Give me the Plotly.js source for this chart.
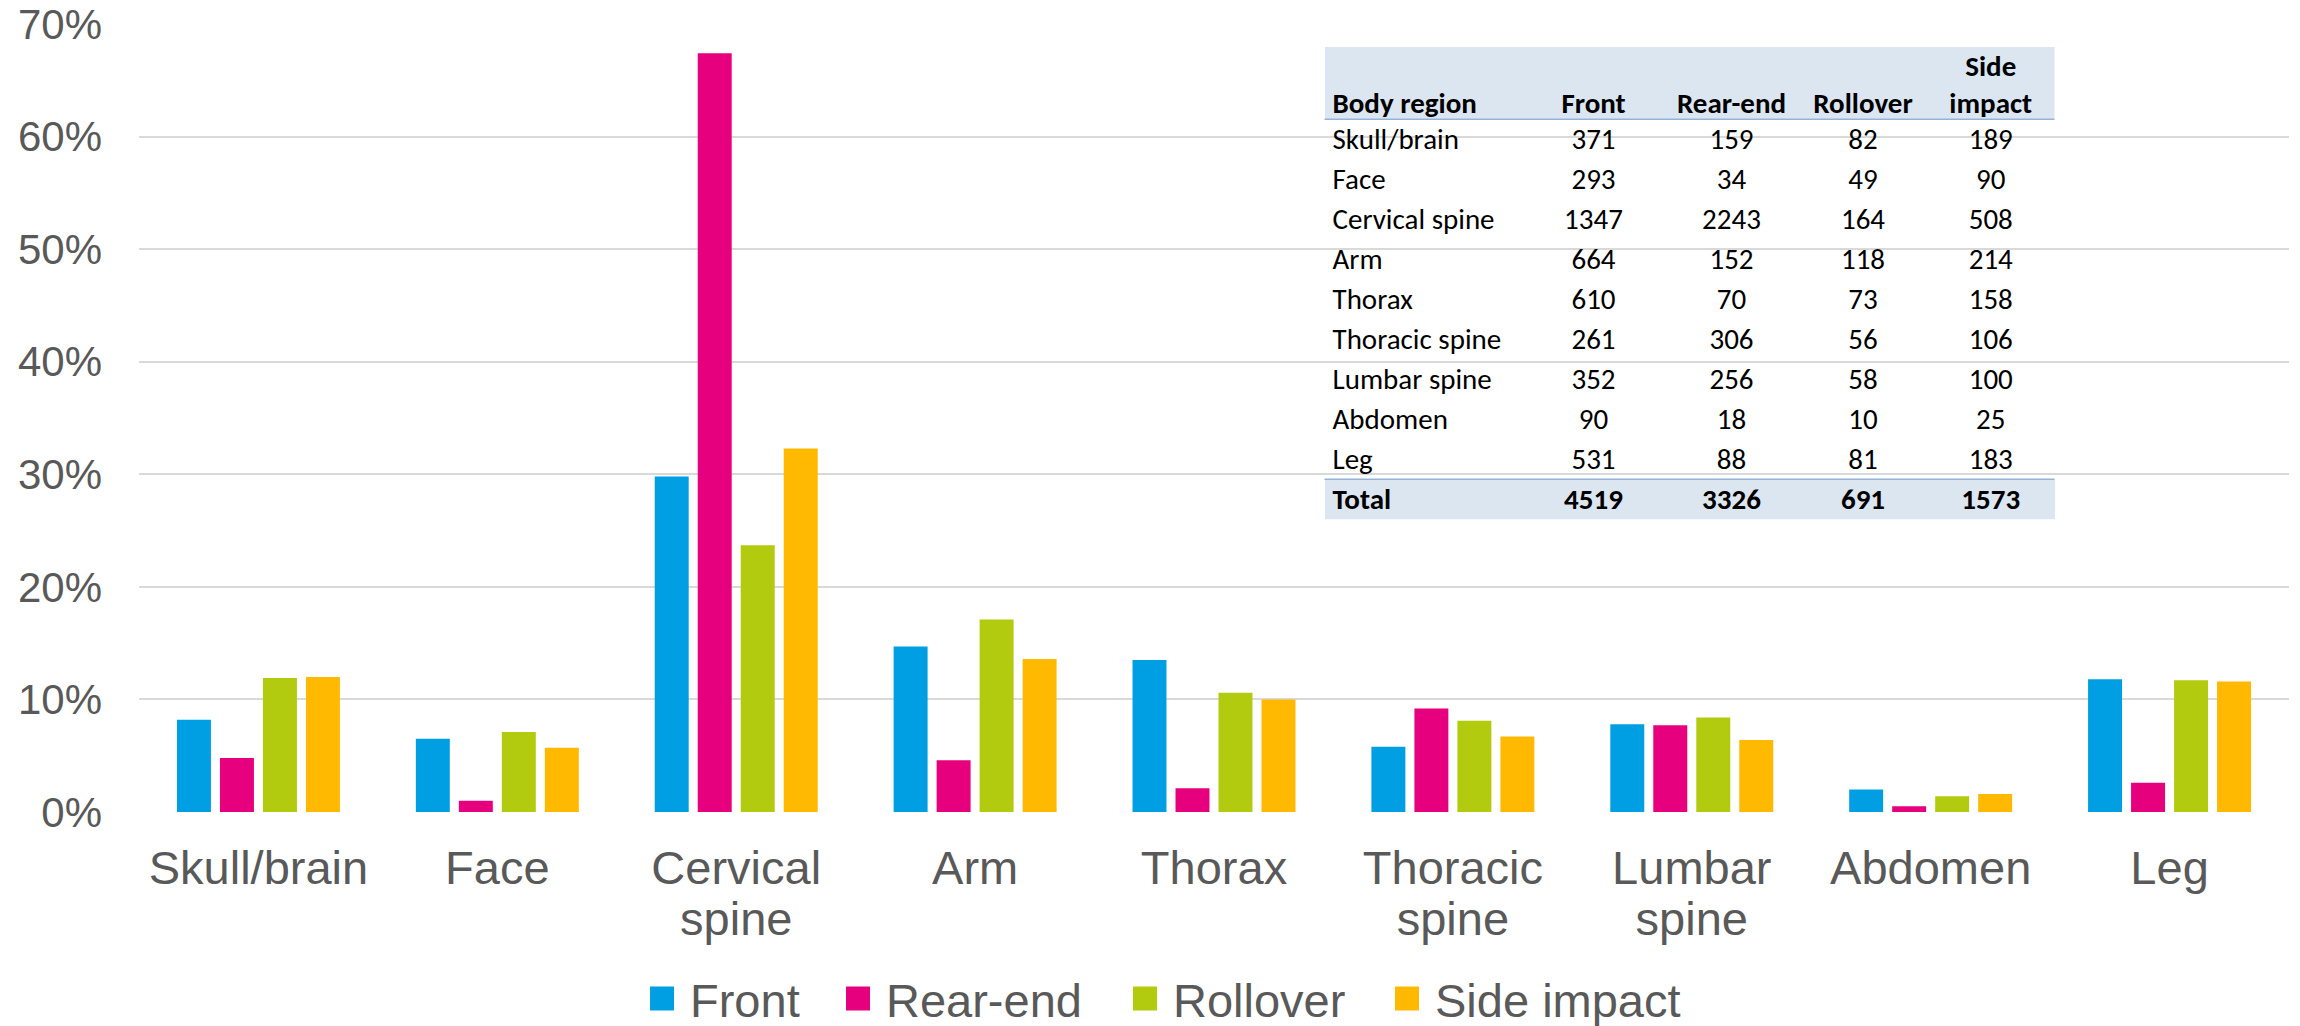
<!DOCTYPE html>
<html>
<head>
<meta charset="utf-8">
<script src="https://cdn.plot.ly/plotly-3.0.1.min.js"></script>
<style>
  html, body { margin: 0; padding: 0; background: #ffffff; }
  #chart { width: 2300px; height: 1026px; }
</style>
</head>
<body>
<div id="chart"></div>
<script>
// ---- Data ----
const categories = ['Skull/brain', 'Face', 'Cervical<br>spine', 'Arm', 'Thorax',
  'Thoracic<br>spine', 'Lumbar<br>spine', 'Abdomen', 'Leg'];
const seriesNames = ['Front', 'Rear-end', 'Rollover', 'Side impact'];
const frontPct    = [8.2, 6.5, 29.8, 14.7, 13.5, 5.8, 7.8, 2.0, 11.8];
const rearPct     = [4.8, 1.0, 67.4, 4.6, 2.1, 9.2, 7.7, 0.5, 2.6];
const rolloverPct = [11.9, 7.1, 23.7, 17.1, 10.6, 8.1, 8.4, 1.4, 11.7];
const sidePct     = [12.0, 5.7, 32.3, 13.6, 10.0, 6.7, 6.4, 1.6, 11.6];
const yTickVals   = [0, 10, 20, 30, 40, 50, 60, 70];
const yTickText   = ['0%', '10%', '20%', '30%', '40%', '50%', '60%', '70%'];

// Table data
const tableHeaderTop    = ['', '', '', '', 'Side'];
const tableHeaderBottom = ['Body region', 'Front', 'Rear-end', 'Rollover', 'impact'];
const tableRegions  = ['Skull/brain', 'Face', 'Cervical spine', 'Arm', 'Thorax',
  'Thoracic spine', 'Lumbar spine', 'Abdomen', 'Leg'];
const tableFront    = [371, 293, 1347, 664, 610, 261, 352, 90, 531];
const tableRear     = [159, 34, 2243, 152, 70, 306, 256, 18, 88];
const tableRollover = [82, 49, 164, 118, 73, 56, 58, 10, 81];
const tableSide     = [189, 90, 508, 214, 158, 106, 100, 25, 183];
const tableTotal    = ['Total', 4519, 3326, 691, 1573];

// ---- Styling / layout constants ----
const colors = ['#009fe3', '#e6007e', '#b2cb0f', '#ffb900'];
const W = 2300, H = 1026;
const M = { l: 139, r: 11, t: 24, b: 214, autoexpand: false };
const plotW = W - M.l - M.r, plotH = H - M.t - M.b;
const axisFont = 'Arial, "Liberation Sans", sans-serif';
const tableFont = 'Carlito, Lato, "Open Sans", sans-serif';
const headerFill = '#dce6f1';
const lineBlue = '#95b3d7';
const legendSquareLeft = [650, 846, 1133, 1395];
const legendCenterY = 999;

// table geometry in page pixels
const tLeft = 1324.5, tRight = 2054.5, tTop = 46.7, headerRowH = 36.3, rowH = 40, totalH = 40.7;
const nRows = tableRegions.length;
const tBodyBottom = tTop + 2 * headerRowH + rowH * nRows;
const tBottom = tBodyBottom + totalH;
const px2x = px => (px - M.l) / plotW;
const px2y = py => (H - M.b - py) / plotH;
const colW = [198.5, 141, 135, 128, 127.5];
const colAlign = ['left', 'center', 'center', 'center', 'center'];

const seriesVals = [frontPct, rearPct, rolloverPct, sidePct];
const legendIds = ['legend', 'legend2', 'legend3', 'legend4'];
const traces = seriesNames.map((name, i) => ({
  type: 'bar',
  name: name,
  x: categories,
  y: seriesVals[i],
  legend: legendIds[i],
  marker: { color: colors[i], line: { width: 0 } },
  hoverinfo: 'skip'
}));

// main table: header + body rows
traces.push({
  type: 'table',
  domain: { x: [px2x(tLeft), px2x(tRight)], y: [px2y(tBodyBottom), px2y(tTop)] },
  columnwidth: colW,
  header: {
    values: tableHeaderTop.map((t, k) => [t, tableHeaderBottom[k]]),
    align: colAlign,
    height: headerRowH,
    fill: { color: headerFill },
    line: { color: headerFill, width: 0 },
    font: { family: tableFont, size: 29, color: '#000000', weight: 'bold' }
  },
  cells: {
    values: [tableRegions, tableFront, tableRear, tableRollover, tableSide],
    align: colAlign,
    height: rowH,
    fill: { color: 'rgba(0,0,0,0)' },
    line: { color: 'rgba(0,0,0,0)', width: 0 },
    font: { family: tableFont, size: 29, color: '#000000' }
  }
});
// total row (drawn as a header-only table so it can be bold)
traces.push({
  type: 'table',
  domain: { x: [px2x(tLeft), px2x(tRight)], y: [px2y(tBottom), px2y(tBodyBottom)] },
  columnwidth: colW,
  header: {
    values: tableTotal.map(v => [v]),
    align: colAlign,
    height: totalH,
    fill: { color: headerFill },
    line: { color: headerFill, width: 0 },
    font: { family: tableFont, size: 29, color: '#000000', weight: 'bold' }
  },
  cells: { values: [] }
});

const layout = {
  width: W, height: H,
  margin: M,
  paper_bgcolor: '#ffffff',
  plot_bgcolor: '#ffffff',
  barmode: 'group',
  bargap: 0.28,
  bargroupgap: 0.21,
  showlegend: true,
  xaxis: {
    type: 'category',
    tickfont: { family: axisFont, size: 47, color: '#595959' },
    ticks: '',
    showgrid: false,
    zeroline: false,
    showline: false,
    automargin: false,
    ticklabelstandoff: 24,
    fixedrange: true
  },
  yaxis: {
    range: [0, 70],
    tickmode: 'array',
    tickvals: yTickVals,
    ticktext: yTickText,
    tickfont: { family: axisFont, size: 42, color: '#595959' },
    ticks: '',
    showgrid: true,
    gridcolor: '#d9d9d9',
    gridwidth: 2,
    zeroline: false,
    showline: false,
    automargin: false,
    ticklabelstandoff: 36,
    fixedrange: true
  },
  shapes: [
    { type: 'line', xref: 'paper', yref: 'paper', x0: px2x(tLeft), x1: px2x(tRight),
      y0: px2y(tTop + 2 * headerRowH), y1: px2y(tTop + 2 * headerRowH), line: { color: lineBlue, width: 1.5 } },
    { type: 'line', xref: 'paper', yref: 'paper', x0: px2x(tLeft), x1: px2x(tRight),
      y0: px2y(tBodyBottom), y1: px2y(tBodyBottom), line: { color: lineBlue, width: 1.5 } }
  ]
};
legendIds.forEach((id, i) => {
  layout[id] = {
    orientation: 'h',
    x: px2x(legendSquareLeft[i]), xanchor: 'left',
    y: px2y(legendCenterY), yanchor: 'middle',
    font: { family: axisFont, size: 47, color: '#595959' },
    bgcolor: 'rgba(0,0,0,0)',
    borderwidth: 0
  };
});

Plotly.newPlot('chart', traces, layout, { displayModeBar: false, staticPlot: true }).then(gd => {
  gd.querySelectorAll('.legendpoints path').forEach(p => {
    p.setAttribute('d', 'M4,12H-20V-12H4Z');
  });
  // tighter line spacing for two-line category labels, as in the reference
  gd.querySelectorAll('.xtick text').forEach(t => {
    const lines = t.querySelectorAll('tspan.line');
    lines.forEach((ln, k) => { if (k > 0) ln.setAttribute('dy', (1.08 * k) + 'em'); });
  });
});
</script>
</body>
</html>
